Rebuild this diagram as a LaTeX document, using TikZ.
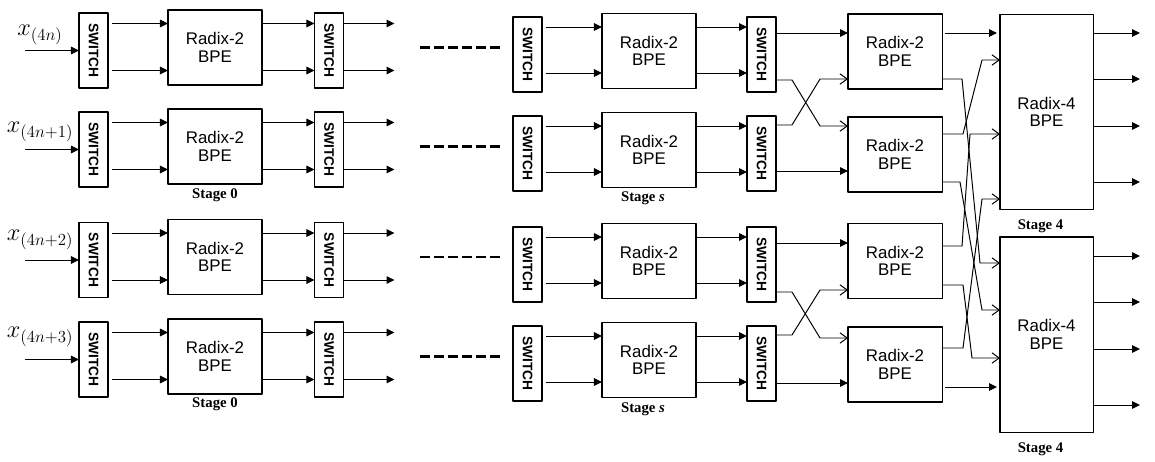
\documentclass[tikz,border=0pt]{standalone}
\usepackage{fontspec}
\usepackage{graphicx}
\setmainfont{Liberation Serif}
\setsansfont{Liberation Sans}
\usetikzlibrary{arrows.meta,positioning}
\tikzset{
  box/.style={draw, line width=0.75pt, inner sep=0pt, outer sep=0pt, align=center},
  sw/.style={box, minimum width=0.725cm, minimum height=1.875cm,
    font=\sffamily\bfseries\fontsize{9.8}{10}\selectfont},
  bpe/.style={box, minimum width=2.35cm, minimum height=1.875cm,
    font=\sffamily\fontsize{12}{12.5}\selectfont},
  bpefour/.style={box, minimum width=2.325cm, minimum height=4.875cm,
    font=\sffamily\fontsize{12}{12.5}\selectfont},
  stagelbl/.style={font=\bfseries\fontsize{10.5}{12}\selectfont, inner sep=0pt},
  inlbl/.style={font=\fontsize{17}{20}\selectfont, inner sep=0pt},
  fwd/.style={-{Triangle[length=0.2cm,width=0.19cm]}, line width=0.7pt},
  xwd/.style={-{Straight Barb[length=0.18cm,width=0.26cm]}, line width=0.7pt},
  gap/.style={line width=2pt, dash pattern=on 0.25cm off 0.1cm}
}
\begin{document}
\begin{tikzpicture}[x=0.025cm, y=-0.025cm, line join=round]
  \useasboundingbox (0,0) rectangle (1155,461);
  % four rows: stage 0 ... stage s
  \foreach \r/\yl/\ym/\yx/\sub in {1/47.5/51/35/4n, 2/146.5/150/132/4n+1, 3/257/261/240/4n+2, 4/356.5/360/337/4n+3}{
    % stage 0
    \coordinate (in\r) at (25,\yl+3);
    \node[inlbl] (x\r) at (40,\yx) {$x_{(\sub)}$};
    \node[sw] (sa\r) at (93.5,\yl+3) {\rotatebox{-90}{SWITCH}};
    \node[bpe] (ba\r) at (215,\yl) {Radix-2\\BPE};
    \node[sw] (sb\r) at (329,\yl+3) {\rotatebox{-90}{SWITCH}};
    \draw[fwd] (in\r) -- (sa\r);
    \draw[fwd, shorten <=0.1cm] (sa\r.east |- 0,\yl-24) -- (ba\r.west |- 0,\yl-24);
    \draw[fwd, shorten <=0.1cm] (sa\r.east |- 0,\yl+23) -- (ba\r.west |- 0,\yl+23);
    \draw[fwd] (ba\r.east |- 0,\yl-24) -- (sb\r.west |- 0,\yl-24);
    \draw[fwd] (ba\r.east |- 0,\yl+23) -- (sb\r.west |- 0,\yl+23);
    \draw[fwd] (sb\r.east |- 0,\yl-24) -- ++(51,0);
    \draw[fwd] (sb\r.east |- 0,\yl+23) -- ++(51,0);
    \draw[gap] (420,\yl) -- (500,\yl);
    % stage s
    \node[sw] (sc\r) at (527.5,\ym+3.5) {\rotatebox{-90}{SWITCH}};
    \node[bpe] (bb\r) at (649,\ym) {Radix-2\\BPE};
    \node[sw] (sd\r) at (761.5,\ym+3.5) {\rotatebox{-90}{SWITCH}};
    \draw[fwd, shorten <=0.1cm] (sc\r.east |- 0,\ym-24) -- (bb\r.west |- 0,\ym-24);
    \draw[fwd, shorten <=0.1cm] (sc\r.east |- 0,\ym+22) -- (bb\r.west |- 0,\ym+22);
    \draw[fwd] (bb\r.east |- 0,\ym-24) -- (sd\r.west |- 0,\ym-24);
    \draw[fwd] (bb\r.east |- 0,\ym+22) -- (sd\r.west |- 0,\ym+22);
  }
  \node[stagelbl, below=0.1cm of ba2] {Stage 0};
  \node[stagelbl, below=0.08cm of ba4] {Stage 0};
  \node[stagelbl, below=0.1cm of bb2, xshift=-0.15cm] {Stage \textit{s}};
  \node[stagelbl, below=0.12cm of bb4, xshift=-0.15cm] {Stage \textit{s}};
  % last radix-2 column
  \node[bpe] (bc1) at (895,51.5) {Radix-2\\BPE};
  \node[bpe] (bc2) at (895,154.5) {Radix-2\\BPE};
  \node[bpe] (bc3) at (895,261) {Radix-2\\BPE};
  \node[bpe] (bc4) at (895,364.5) {Radix-2\\BPE};
  \draw[fwd] (sd1.east |- 0,33) -- (bc1.west |- 0,33);
  \draw[xwd] (sd1.east |- 0,80) -- +(16,0) -- (820,126) -- (bc2.west |- 0,126);
  \draw[xwd] (sd2.east |- 0,125) -- +(16,0) -- (820,79) -- (bc1.west |- 0,79);
  \draw[fwd] (sd2.east |- 0,171) -- (bc2.west |- 0,171);
  \draw[fwd] (sd3.east |- 0,243) -- (bc3.west |- 0,243);
  \draw[xwd] (sd3.east |- 0,292) -- +(16,0) -- (820,338) -- (bc4.west |- 0,338);
  \draw[xwd] (sd4.east |- 0,335) -- +(16,0) -- (820,290) -- (bc3.west |- 0,290);
  \draw[fwd] (sd4.east |- 0,383) -- (bc4.west |- 0,383);
  % stage 4
  \node[bpefour] (q1) at (1046.5,112) {Radix-4\\BPE};
  \node[bpefour] (q2) at (1046.5,334.5) {Radix-4\\BPE};
  \node[stagelbl, below=0.25cm of q1, xshift=-0.15cm] {Stage 4};
  \node[stagelbl, below=0.25cm of q2, xshift=-0.15cm] {Stage 4};
  \draw[fwd, shorten <=0.075cm, shorten >=0.075cm] (bc1.east |- 0,33) -- (q1.west |- 0,33);
  \draw[xwd] (bc1.east |- 0,79) -- (962,79) -- (980,263) -- (q2.west |- 0,263);
  \draw[xwd] (bc2.east |- 0,134) -- (963,134) -- (982,60) -- (q1.west |- 0,60);
  \draw[xwd] (bc2.east |- 0,182) -- (960,182) -- (982,310) -- (q2.west |- 0,310);
  \draw[xwd] (bc3.east |- 0,246) -- (962,246) -- (970,134) -- (q1.west |- 0,134);
  \draw[xwd] (bc3.east |- 0,285) -- (963,285) -- (972,358) -- (q2.west |- 0,358);
  \draw[xwd] (bc4.east |- 0,348) -- (963,348) -- (982,199) -- (q1.west |- 0,199);
  \draw[fwd, shorten <=0.075cm, shorten >=0.075cm] (bc4.east |- 0,387) -- (q2.west |- 0,387);
  \foreach \y in {33,79,126,182} \draw[fwd] (q1.east |- 0,\y) -- ++(47,0);
  \foreach \y in {256,302,349,405} \draw[fwd] (q2.east |- 0,\y) -- ++(47,0);
\end{tikzpicture}
\end{document}
